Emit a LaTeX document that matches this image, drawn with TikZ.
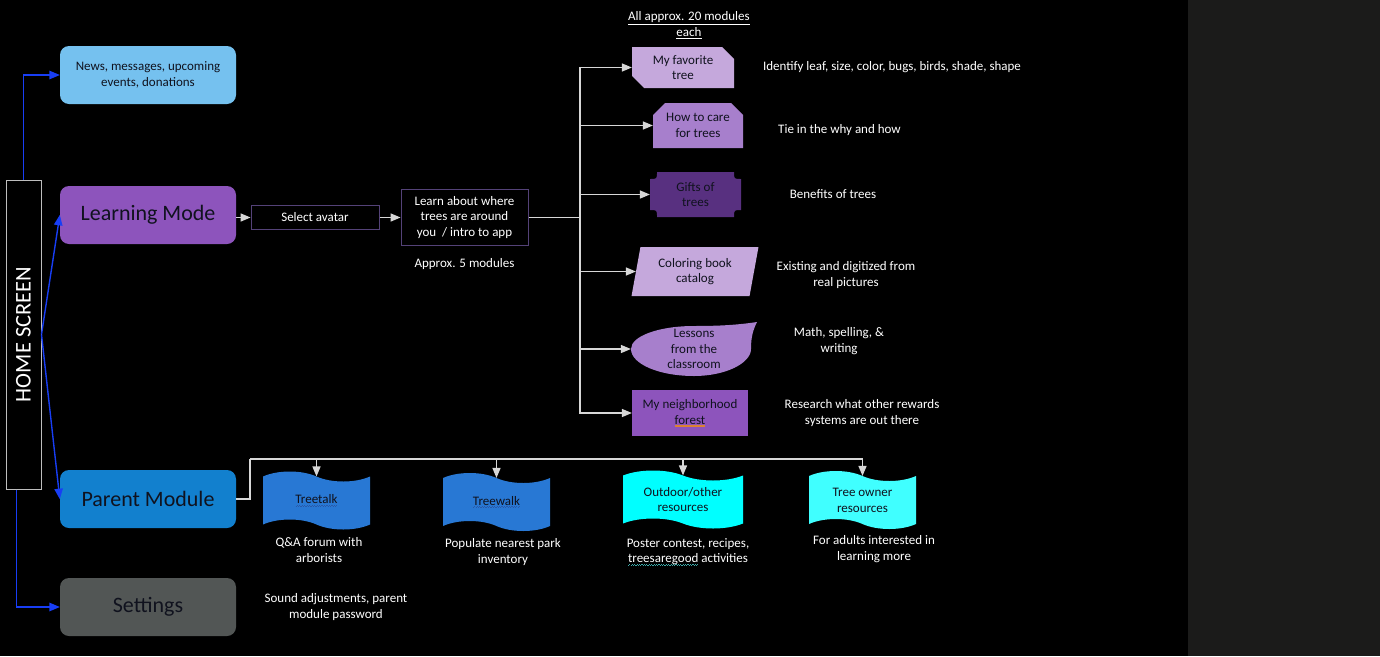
\documentclass[tikz,border=0pt]{standalone}
\usepackage{fontspec}
\setmainfont{Carlito}
\usepackage{graphicx}
\usepackage{tikz}
\usetikzlibrary{shapes.geometric, shapes.misc, shapes.symbols, arrows, positioning, calc}
\definecolor{newsblue}{RGB}{117,193,239}
\definecolor{learnpurple}{RGB}{141,84,188}
\definecolor{parentblue}{RGB}{18,128,206}
\definecolor{settingsgray}{RGB}{82,86,85}
\definecolor{textdark}{RGB}{16,18,30}
\definecolor{homeblue}{RGB}{24,62,245}
\definecolor{homegray}{RGB}{190,190,190}
\definecolor{linegray}{RGB}{215,215,215}
\definecolor{stepline}{RGB}{84,66,120}
\definecolor{lightlavender}{RGB}{197,168,220}
\definecolor{midpurple}{RGB}{167,127,204}
\definecolor{giftpurple}{RGB}{88,48,128}
\definecolor{tapeblue}{RGB}{40,120,212}
\definecolor{tapecyan}{RGB}{0,255,255}
\definecolor{tapecyanlight}{RGB}{64,255,255}
\definecolor{sidegray}{RGB}{27,27,26}
\definecolor{squigblue}{RGB}{40,90,170}
\definecolor{squigteal}{RGB}{60,170,170}
\definecolor{squigorange}{RGB}{220,130,50}
\newcommand{\menufont}{\fontsize{22}{26}\selectfont}
\newcommand{\notefont}{\fontsize{13}{15.8}\selectfont}
\newcommand{\homefont}{\fontsize{22.5}{26}\selectfont}
\newsavebox{\spellbox}
\newcommand{\spellwave}[2]{\sbox{\spellbox}{#2}\rlap{\textcolor{#1}{\raisebox{-3pt}{\hbox to \wd\spellbox{\xleaders\hbox{\rule[0pt]{1.2pt}{0.9pt}\rule[0.9pt]{1.2pt}{0.9pt}}\hfil}}}}\usebox{\spellbox}}
\newcommand{\spellline}[2]{\sbox{\spellbox}{#2}\rlap{\textcolor{#1}{\rule[-2.5pt]{\wd\spellbox}{1.2pt}}}\usebox{\spellbox}}
\tikzstyle{homebox} = [rectangle, minimum width=35pt, minimum height=309pt, draw=homegray, fill=black, text=white, line width=1pt, inner sep=0pt, font=\homefont]
\tikzstyle{menubox} = [rectangle, rounded corners=9pt, minimum width=176pt, minimum height=58pt, text centered, text=textdark, inner sep=2pt]
\tikzstyle{stepbox} = [rectangle, draw=stepline, fill=black, text=white, text centered, align=center, line width=1pt, font=\notefont, inner sep=2pt]
\tikzstyle{note} = [text=white, align=center, font=\notefont, inner sep=0pt]
\tikzstyle{snipbox} = [chamfered rectangle, chamfered rectangle xsep=6pt, chamfered rectangle ysep=6pt, align=center, text=textdark, font=\notefont, inner sep=1pt]
\tikzstyle{wavebox} = [tape, tape bend top=out and in, tape bend bottom=out and in, tape bend height=10pt, minimum width=107pt, minimum height=58pt, align=center, text=textdark, font=\notefont, inner sep=1pt]
\tikzstyle{plaque} = [rectangle, minimum width=91pt, minimum height=45pt, align=center, text=textdark, font=\notefont, path picture={
    \path (path picture bounding box.north west) coordinate (pnw) (path picture bounding box.south east) coordinate (pse);
    \fill [giftpurple] ($(pnw)+(7,0)$) -- ($(pse|-pnw)+(-7,0)$) .. controls ($(pse|-pnw)+(-7,7)$) .. ($(pse|-pnw)+(0,7)$) -- ($(pse)+(0,-7)$) .. controls ($(pse)+(-7,-7)$) .. ($(pse)+(-7,0)$) -- ($(pnw|-pse)+(7,0)$) .. controls ($(pnw|-pse)+(7,-7)$) .. ($(pnw|-pse)+(0,-7)$) -- ($(pnw)+(0,7)$) .. controls ($(pnw)+(7,7)$) .. ($(pnw)+(7,0)$) -- cycle;
}]
\tikzstyle{teardrop} = [rectangle, minimum width=126pt, minimum height=54pt, align=center, text=textdark, font=\notefont, inner sep=0pt, path picture={
    \path (path picture bounding box.north west) coordinate (tnw) (path picture bounding box.south east) coordinate (tse) (path picture bounding box.center) coordinate (tc);
    \fill [midpurple] (tnw|-tc) .. controls +(0,15) and +(-35,0) .. (tc|-tse) .. controls +(32,0) and +(0,14) .. ($(tse|-tc)+(-6,0)$) .. controls +(0,-12) and +(-4,8) .. (tse|-tnw) .. controls +(-20,3) and +(25,0) .. ($(tc|-tnw)+(0,4)$) .. controls +(-35,0) and +(0,-13) .. (tnw|-tc) -- cycle;
}]
\tikzstyle{arrow} = [line width=1.3pt, ->, >=triangle 45, draw=linegray]
\tikzstyle{bluearrow} = [line width=1.4pt, ->, >=triangle 45, draw=homeblue]
\tikzstyle{line} = [line width=1.3pt, draw=linegray]

\begin{document}
\begin{tikzpicture}[x=1pt, y=-1pt, node distance=140pt]
        \useasboundingbox (0,0) rectangle (1380,656);
        \fill [black] (0,0) rectangle (1188,656);
        \fill [sidegray] (1188,0) rectangle (1380,656);

        \node (learn) [menubox, fill=learnpurple, font=\menufont] at (148,215) {Learning Mode};
        \node (news) [menubox, fill=newsblue, font=\notefont, align=center, above of=learn] {News, messages, upcoming\\events, donations};
        \node (parent) [menubox, fill=parentblue, font=\menufont, below of=learn, yshift=-144pt] {Parent Module};
        \node (settings) [menubox, fill=settingsgray, font=\menufont, below of=parent, yshift=32pt] {Settings};
        \node (home) [homebox, left of=learn, xshift=15.5pt, yshift=-119.5pt] {\rotatebox{90}{HOME SCREEN}};
        \node (setnote) [note, right of=settings, xshift=48pt] {Sound adjustments, parent\\module password};

        \node (avatar) [stepbox, minimum width=128pt, minimum height=24pt, right of=learn, xshift=27pt, yshift=-2.5pt] {Select avatar};
        \node (intro) [stepbox, minimum width=127pt, minimum height=56pt, right of=avatar, xshift=9.5pt] {Learn about where\\trees are around\\you\ \ / intro to app};
        \node (approx5) [note, below of=intro, yshift=93.5pt] {Approx. 5 modules};
        \node (point1) [coordinate, right of=intro, xshift=-24.5pt] {};

        \node (fav) [snipbox, chamfered rectangle corners={north east, south west}, fill=lightlavender, minimum width=102pt, minimum height=41pt, right of=point1, xshift=-37pt, yshift=150pt] {My favorite\\tree};
        \node (care) [snipbox, chamfered rectangle corners={north west, north east}, fill=midpurple, minimum width=90pt, minimum height=45pt, below of=fav, xshift=15pt, yshift=82pt] {How to care\\for trees};
        \node (gifts) [plaque, below of=care, xshift=-2.5pt, yshift=71pt] {Gifts of\\trees};
        \node (coloring) [trapezium, trapezium left angle=78, trapezium right angle=102, trapezium stretches=true, fill=lightlavender, minimum width=128pt, minimum height=49pt, align=center, text=textdark, font=\notefont, inner sep=1pt, below of=gifts, xshift=-0.5pt, yshift=63pt] {Coloring book\\catalog};
        \node (lessons) [teardrop, below of=coloring, xshift=-1pt, yshift=62.5pt] {Lessons\\from the\\classroom};
        \node (forest) [rectangle, fill=learnpurple, minimum width=116pt, minimum height=46pt, align=center, text=textdark, font=\notefont, below of=lessons, xshift=-4pt, yshift=76pt] {My neighborhood\\\spellline{squigorange}{forest}};
        \node (allmods) [note, above of=fav, xshift=6pt, yshift=-97.5pt] {\underline{All approx. 20 modules}\\\underline{each}};

        \node (favnote) [note, right of=fav, xshift=69pt] {Identify leaf, size, color, bugs, birds, shade, shape};
        \node (carenote) [note, right of=care, xshift=1.5pt, yshift=-4.5pt] {Tie in the why and how};
        \node (giftsnote) [note, right of=gifts, xshift=-2.5pt] {Benefits of trees};
        \node (coloringnote) [note, right of=coloring, xshift=11pt, yshift=-3.5pt] {Existing and digitized from\\real pictures};
        \node (lessonsnote) [note, right of=lessons, xshift=5pt, yshift=8pt] {Math, spelling, \&\\writing};
        \node (forestnote) [note, right of=forest, xshift=32pt] {Research what other rewards\\systems are out there};

        \node (point2) [coordinate, right of=parent, xshift=-38pt, yshift=40pt] {};
        \node (talk) [wavebox, fill=tapeblue, right of=parent, xshift=28.5pt, yshift=-1.5pt] {\spellwave{squigblue}{Treetalk}};
        \node (walk) [wavebox, fill=tapeblue, right of=talk, xshift=40pt, yshift=-1.5pt] {\spellwave{squigblue}{Treewalk}};
        \node (outdoor) [wavebox, fill=tapecyan, minimum width=120pt, right of=walk, xshift=46.5pt, yshift=2.5pt] {Outdoor/other\\resources};
        \node (owner) [wavebox, fill=tapecyanlight, right of=outdoor, xshift=39.5pt, yshift=-0.5pt] {Tree owner\\resources};
        \node (talknote) [note, below of=talk, xshift=2.5pt, yshift=90.5pt] {Q\&A forum with\\arborists};
        \node (walknote) [note, below of=walk, xshift=6.5pt, yshift=90pt] {Populate nearest park\\inventory};
        \node (outdoornote) [note, below of=outdoor, xshift=5pt, yshift=87.5pt] {Poster contest, recipes,\\\spellwave{squigteal}{treesaregood} activities};
        \node (ownernote) [note, below of=owner, xshift=11.5pt, yshift=91pt] {For adults interested in\\learning more};


        \draw [bluearrow] (home.north) |- (news.west);
        \draw [bluearrow] (home.east) -- (learn.west);
        \draw [bluearrow] (home.east) -- (parent.west);
        \draw [bluearrow] ([xshift=-7pt]home.south) |- (settings.west);

        \draw [arrow] (learn.east |- avatar.west) -- (avatar.west);
        \draw [arrow] (avatar) -- (intro);
        \draw [line] (intro.east) -- (point1);
        \draw [arrow] (point1) |- (fav.west);
        \draw [arrow] (point1) |- (care.west);
        \draw [arrow] (point1) |- (gifts.west);
        \draw [arrow] (point1) |- (coloring.west);
        \draw [arrow] (point1) |- (lessons.west);
        \draw [arrow] (point1) |- (forest.west);

        \draw [line] (parent.east) -| (point2);
        \draw [arrow] (point2) -| (talk.north);
        \draw [arrow] (point2) -| (walk.north);
        \draw [arrow] (point2) -| (outdoor.north);
        \draw [arrow] (point2) -| (owner.north);

    \end{tikzpicture}
\end{document}
